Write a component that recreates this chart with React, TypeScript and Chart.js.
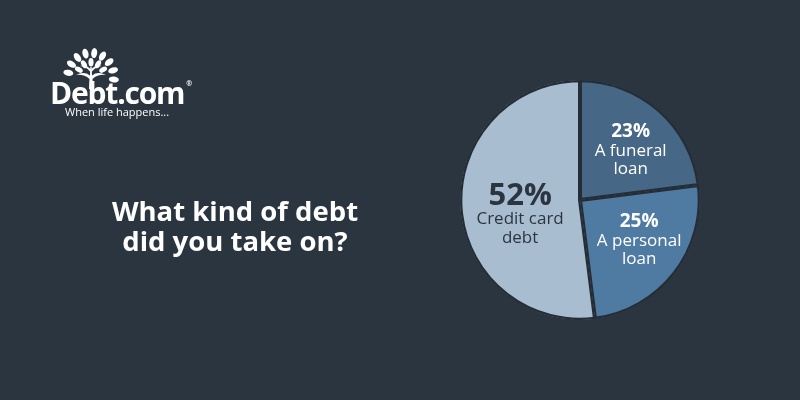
import React, { useEffect, useRef } from "react";
import { Chart, registerables } from "chart.js";

Chart.register(...registerables);

const categories = ["A funeral loan", "A personal loan", "Credit card debt"];
const values = [23, 25, 52];
const labelLines = [["A funeral", "loan"], ["A personal", "loan"], ["Credit card", "debt"]];
const sliceColors = ["#466886", "#4f7aa2", "#a9bdd1"];
const labelColors = ["#ffffff", "#ffffff", "#2b3540"];
const BG = "#2b3540";

const labelPlugin = {
  id: "sliceLabels",
  afterDatasetsDraw(chart: any) {
    const ctx = chart.ctx;
    const meta = chart.getDatasetMeta(0);
    meta.data.forEach((arc: any, i: number) => {
      const mid = (arc.startAngle + arc.endAngle) / 2;
      const big = values[i] > 50;
      const r = arc.outerRadius * (big ? 0.5 : 0.55);
      const cx = arc.x + Math.cos(mid) * r + (big ? 0 : 7);
      const cy = arc.y + Math.sin(mid) * r + (big ? 11 : 0);
      ctx.save();
      ctx.fillStyle = labelColors[i];
      ctx.textAlign = "center";
      ctx.textBaseline = "middle";
      const pctSize = big ? 31 : 19;
      const lh = 18.5;
      const total = (big ? 24 : 19) + lh * labelLines[i].length;
      let y = cy - total / 2 + (big ? 12 : 9.5);
      ctx.font = `bold ${pctSize}px "Open Sans"`;
      ctx.fillText(values[i] + "%", cx, y);
      y += big ? 23 : 19;
      ctx.font = `17px "Open Sans"`;
      labelLines[i].forEach((t) => {
        ctx.fillText(t, cx, y);
        y += lh;
      });
      ctx.restore();
    });
  },
};

function TreeIcon() {
  const cx = 30;
  const cy = 30;
  const outer = [-170, -148, -126, -104, -82, -60, -38, -16, 6].map((a) => [a, 23]);
  const inner = [-150, -120, -90, -60, -30].map((a) => [a, 14]);
  const leaves = [...outer, ...inner].map(([a, r]) => {
    const rad = (a * Math.PI) / 180;
    return [cx + Math.cos(rad) * r, cy + Math.sin(rad) * r * 1.05, a + 90, r > 20 ? 1 : 0.85];
  });
  return (
    <svg width="60" height="42" viewBox="0 0 60 42" style={{ position: "absolute", left: 61, top: 47 }}>
      <g fill="#ffffff">
        <path d="M28 42 L28.5 32 Q23 27 15 28 Q23 24 29 28.5 L29.3 20 L30.7 20 L31 28.5 Q37 24 45 28 Q37 27 31.5 32 L32 42 Z" />
        <path d="M29.5 25 Q25 19 19 19 Q26 17 30 23 Z" />
        <path d="M30.5 25 Q35 19 41 19 Q34 17 30 23 Z" />
        {leaves.map(([x, y, a, s], i) => (
          <ellipse key={i} cx={x} cy={y} rx={3 * s} ry={5 * s} transform={`rotate(${a} ${x} ${y})`} />
        ))}
      </g>
    </svg>
  );
}

export default function App() {
  const canvasRef = useRef<HTMLCanvasElement>(null);
  useEffect(() => {
    const chart = new Chart(canvasRef.current!, {
      type: "pie",
      data: {
        labels: categories,
        datasets: [
          {
            data: values,
            backgroundColor: sliceColors,
            borderColor: "#252e37",
            borderWidth: 2,
            borderAlign: "inner",
          },
        ],
      },
      options: {
        responsive: false,
        animation: false,
        events: [],
        layout: { padding: { left: 460, right: 100, top: 80, bottom: 80 } },
        plugins: { legend: { display: false }, tooltip: { enabled: false } },
      },
      plugins: [labelPlugin],
    });
    return () => chart.destroy();
  }, []);

  return (
    <div style={{ position: "fixed", left: 0, top: 0, width: 800, height: 400, background: BG, overflow: "hidden", fontFamily: '"Open Sans", sans-serif' }}>
      <canvas ref={canvasRef} width={800} height={400} style={{ position: "absolute", left: 0, top: 0 }} />
      <TreeIcon />
      <div style={{ position: "absolute", left: 50, top: 74, color: "#fff", fontWeight: 700, fontSize: 30, letterSpacing: -1.2, lineHeight: "38px", whiteSpace: "nowrap" }}>
        Debt.com<span style={{ fontSize: 7, verticalAlign: "top", position: "relative", top: -9, left: 2, letterSpacing: 0 }}>®</span>
      </div>
      <div style={{ position: "absolute", left: 65, top: 104, color: "#fff", fontSize: 11, lineHeight: "16px", whiteSpace: "nowrap" }}>
        When life happens...
      </div>
      <div style={{ position: "absolute", left: 70, width: 330, top: 196, color: "#fff", fontWeight: 700, fontSize: 27.5, lineHeight: "30px", textAlign: "center" }}>
        What kind of debt
        <br />
        did you take on?
      </div>
    </div>
  );
}
